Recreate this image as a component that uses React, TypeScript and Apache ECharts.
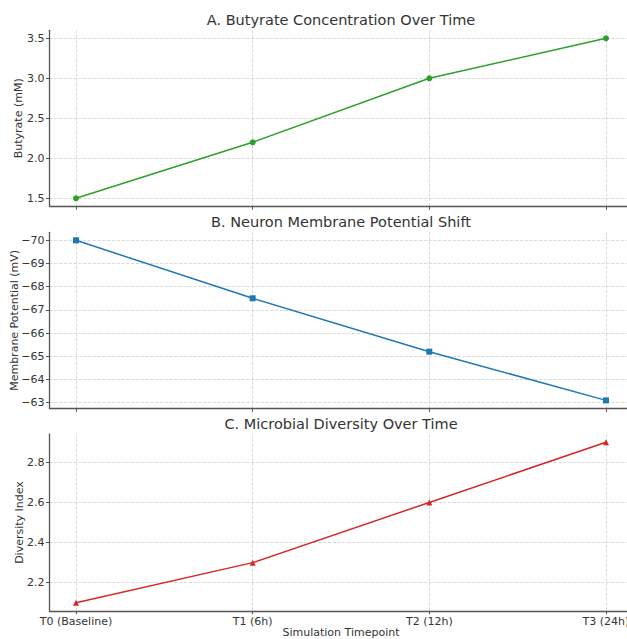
import React, { useEffect, useRef } from "react";
import * as echarts from "echarts";

const categories = ["T0 (Baseline)", "T1 (6h)", "T2 (12h)", "T3 (24h)"];
const butyrate = [1.5, 2.2, 3.0, 3.5];
const membrane = [-70, -67.5, -65.2, -63.1];
const diversity = [2.1, 2.3, 2.6, 2.9];

const butyrateTicks = [1.5, 2.0, 2.5, 3.0, 3.5];
const membraneTicks = [-70, -69, -68, -67, -66, -65, -64, -63];
const diversityTicks = [2.2, 2.4, 2.6, 2.8];

const titles = [
  "A. Butyrate Concentration Over Time",
  "B. Neuron Membrane Potential Shift",
  "C. Microbial Diversity Over Time",
];
const yNames = ["Butyrate (mM)", "Membrane Potential (mV)", "Diversity Index"];
const xName = "Simulation Timepoint";

const FONT = "DejaVu Sans";
const TEXT = "#333333";
const SPINE = "#555555";
const GRIDC = "#d0d0d0";

export default function App() {
  const ref = useRef<HTMLDivElement>(null);
  useEffect(() => {
    document.body.style.margin = "0";
    const chart = echarts.init(ref.current!, undefined, { renderer: "svg" });
    const xIdx = categories.map((_, i) => i);
    const grids = [
      { left: 49.5, top: 30.3, width: 583, height: 176, outerBoundsMode: "none", containLabel: false },
      { left: 49.5, top: 232.3, width: 583, height: 176.1, outerBoundsMode: "none", containLabel: false },
      { left: 49.5, top: 434.2, width: 583, height: 176.6, outerBoundsMode: "none", containLabel: false },
    ];
    const mkX = (gi: number, showLabels: boolean) => ({
      type: "value",
      gridIndex: gi,
      min: -0.15,
      max: 3.15,
      axisLine: { show: true, onZero: false, lineStyle: { color: SPINE, width: 1.3 } },
      axisTick: { show: true, customValues: xIdx, length: 3.5, lineStyle: { color: SPINE, width: 1 } },
      axisLabel: {
        show: showLabels,
        customValues: xIdx,
        formatter: (v: number) => categories[Math.round(v)] ?? "",
        color: TEXT,
        fontFamily: FONT,
        fontSize: 11,
        margin: 5,
      },
      splitLine: { show: true, lineStyle: { color: GRIDC, type: "dashed", width: 0.8 } },
      name: showLabels ? xName : "",
      nameLocation: "middle",
      nameGap: 16,
      nameMoveOverlap: false,
      nameTextStyle: { color: TEXT, fontFamily: FONT, fontSize: 11, verticalAlign: "top" },
    });
    const mkY = (
      gi: number,
      min: number,
      max: number,
      ticks: number[],
      fmt: (v: number) => string,
      name: string,
      nameGap: number,
      inverse = false
    ) => ({
      type: "value",
      gridIndex: gi,
      min,
      max,
      inverse,
      axisLine: { show: true, onZero: false, lineStyle: { color: SPINE, width: 1.3 } },
      axisTick: { show: true, customValues: ticks, length: 3.5, lineStyle: { color: SPINE, width: 1 } },
      axisLabel: {
        customValues: ticks,
        formatter: fmt,
        color: TEXT,
        fontFamily: FONT,
        fontSize: 11,
        margin: 5,
      },
      splitLine: { show: true, lineStyle: { color: GRIDC, type: "dashed", width: 0.8 } },
      name,
      nameLocation: "middle",
      nameGap,
      nameMoveOverlap: false,
      nameTextStyle: { color: TEXT, fontFamily: FONT, fontSize: 11 },
    });
    const mkSeries = (gi: number, data: number[], color: string, symbol: string, size: number) => ({
      type: "line",
      xAxisIndex: gi,
      yAxisIndex: gi,
      data: data.map((v, i) => [i, v]),
      symbol,
      symbolSize: size,
      showAllSymbol: true,
      lineStyle: { color, width: 1.5 },
      itemStyle: { color },
      clip: false,
    });
    chart.setOption({
      animation: false,
      backgroundColor: "#ffffff",
      title: titles.map((t, i) => ({
        text: t,
        left: 341,
        textAlign: "center",
        top: [12, 214, 416][i],
        padding: 0,
        textStyle: { color: TEXT, fontFamily: FONT, fontSize: 14.5, fontWeight: "normal" },
      })),
      grid: grids,
      xAxis: [mkX(0, false), mkX(1, false), mkX(2, true)],
      yAxis: [
        mkY(0, 1.4, 3.6, butyrateTicks, (v) => v.toFixed(1), yNames[0], 26),
        mkY(1, -70.345, -62.755, membraneTicks, (v) => String(Math.round(v)).replace("-", "\u2212"), yNames[1], 30, true),
        mkY(2, 2.06, 2.94, diversityTicks, (v) => v.toFixed(1), yNames[2], 25),
      ],
      series: [
        mkSeries(0, butyrate, "#2ca02c", "circle", 6),
        mkSeries(1, membrane, "#1f77b4", "rect", 6),
        mkSeries(2, diversity, "#d62728", "triangle", 6),
      ],
    });
    return () => chart.dispose();
  }, []);
  return <div ref={ref} style={{ width: 627, height: 639 }} />;
}
